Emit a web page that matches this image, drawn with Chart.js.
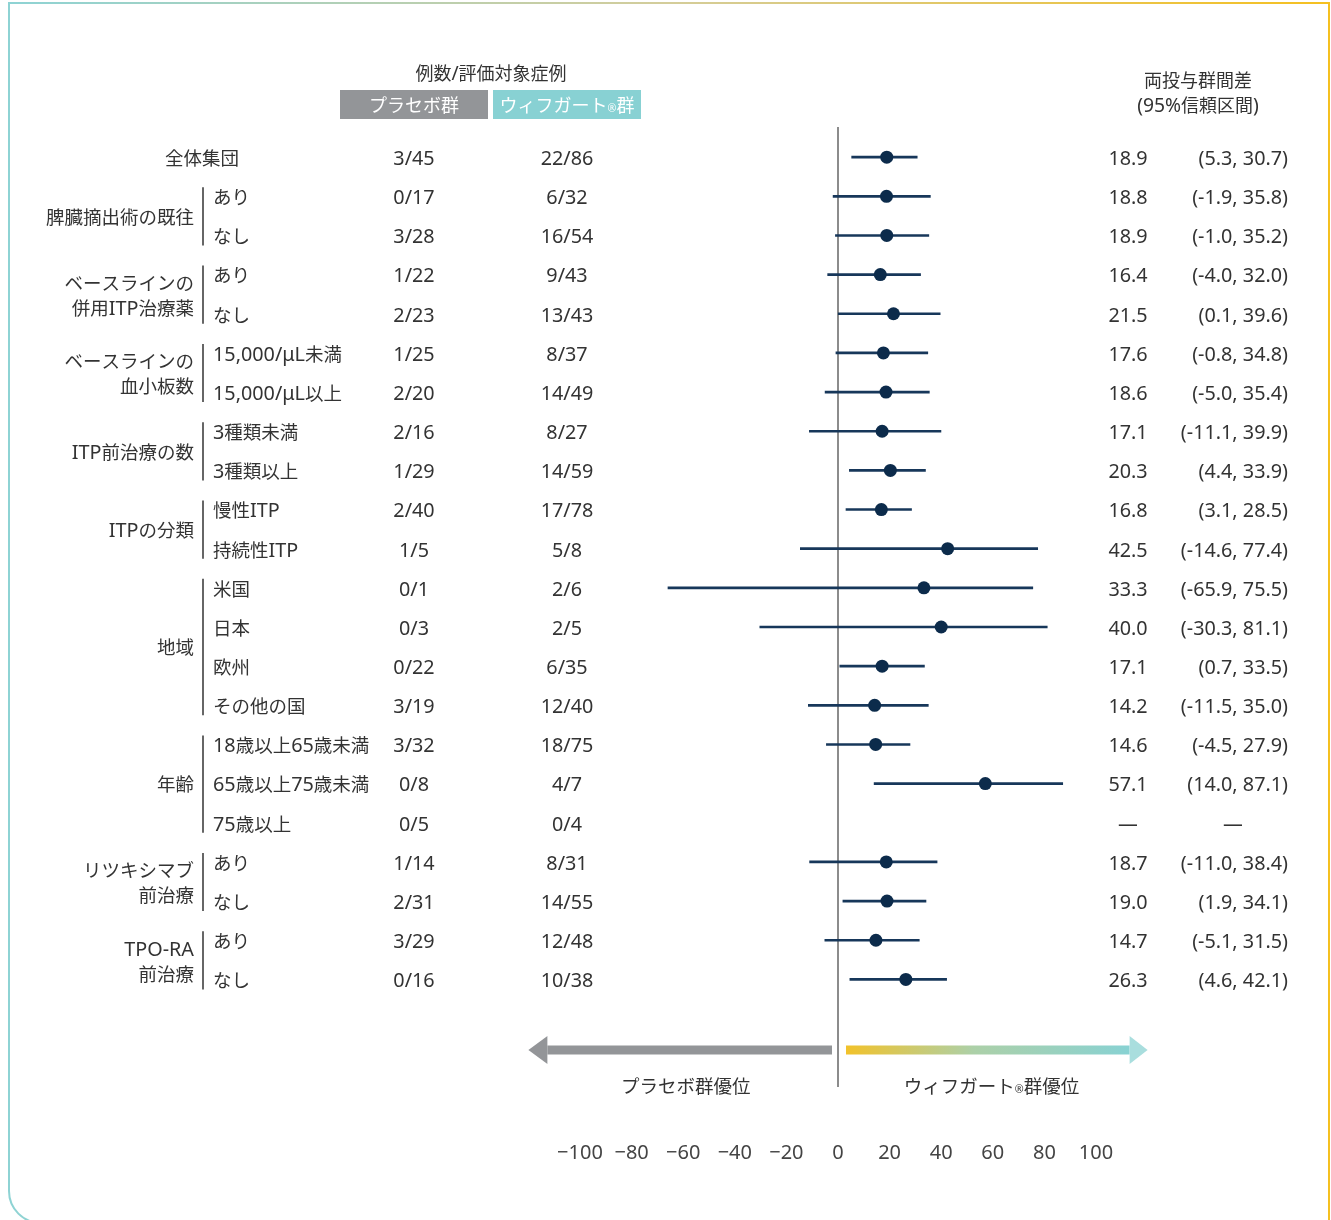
<!DOCTYPE html>
<html lang="ja">
<head>
<meta charset="utf-8">
<title>サブグループ別 両投与群間差</title>
<script src="https://cdn.jsdelivr.net/npm/chart.js@4.4.1/dist/chart.umd.min.js"></script>
<style>
  html, body { margin: 0; padding: 0; background: #fff; }
  #wrap { position: relative; width: 1331px; height: 1220px; }
</style>
</head>
<body>
<div id="wrap"><canvas id="forest"></canvas></div>
<script>
// groups (a "|" splits a label over two lines) and how many rows each one spans
var groupLabels = ['全体集団', '脾臓摘出術の既往', 'ベースラインの|併用ITP治療薬', 'ベースラインの|血小板数',
  'ITP前治療の数', 'ITPの分類', '地域', '年齢', 'リツキシマブ|前治療', 'TPO-RA|前治療'];
var groupSizes = [1, 2, 2, 2, 2, 2, 4, 3, 2, 2];

// one entry per row, top to bottom
var subgroups = ['', 'あり', 'なし', 'あり', 'なし', '15,000/μL未満', '15,000/μL以上', '3種類未満', '3種類以上',
  '慢性ITP', '持続性ITP', '米国', '日本', '欧州', 'その他の国', '18歳以上65歳未満', '65歳以上75歳未満', '75歳以上',
  'あり', 'なし', 'あり', 'なし'];
var placeboN = ['3/45', '0/17', '3/28', '1/22', '2/23', '1/25', '2/20', '2/16', '1/29', '2/40', '1/5',
  '0/1', '0/3', '0/22', '3/19', '3/32', '0/8', '0/5', '1/14', '2/31', '3/29', '0/16'];
var efgarN = ['22/86', '6/32', '16/54', '9/43', '13/43', '8/37', '14/49', '8/27', '14/59', '17/78', '5/8',
  '2/6', '2/5', '6/35', '12/40', '18/75', '4/7', '0/4', '8/31', '14/55', '12/48', '10/38'];
var estimate = [18.9, 18.8, 18.9, 16.4, 21.5, 17.6, 18.6, 17.1, 20.3, 16.8, 42.5,
  33.3, 40.0, 17.1, 14.2, 14.6, 57.1, null, 18.7, 19.0, 14.7, 26.3];
var lower = [5.3, -1.9, -1.0, -4.0, 0.1, -0.8, -5.0, -11.1, 4.4, 3.1, -14.6,
  -65.9, -30.3, 0.7, -11.5, -4.5, 14.0, null, -11.0, 1.9, -5.1, 4.6];
var upper = [30.7, 35.8, 35.2, 32.0, 39.6, 34.8, 35.4, 39.9, 33.9, 28.5, 77.4,
  75.5, 81.1, 33.5, 35.0, 27.9, 87.1, null, 38.4, 34.1, 31.5, 42.1];

var LATIN = '"Noto Sans", sans-serif';
var CJK = '"Noto Sans CJK JP", sans-serif';
var TEXT = '#333333';
var NAVY = '#0c2b4b';

var ciData = [];
var pointData = [];
for (var i = 0; i < subgroups.length; i++) {
  if (estimate[i] === null) continue;
  ciData.push({ y: i, x: [lower[i], upper[i]] });
  pointData.push({ x: estimate[i], y: i });
}

function fmt(v) {
  return v.toFixed(1);
}

// split a string into latin / japanese runs so each gets its own font
function splitRuns(s) {
  var out = [];
  for (var n = 0; n < s.length; n++) {
    var ch = s.charAt(n);
    var j = s.charCodeAt(n) >= 0x3000;
    if (out.length && out[out.length - 1].cjk === j) out[out.length - 1].t += ch;
    else out.push({ t: ch, cjk: j });
  }
  return out;
}

function runFont(r, size) {
  return r.cjk ? size + 'px ' + CJK : (size * 1.07).toFixed(1) + 'px ' + LATIN;
}

function textWidth(ctx, s, size) {
  var w = 0;
  splitRuns(s).forEach(function (r) {
    ctx.font = runFont(r, size);
    w += ctx.measureText(r.t).width;
  });
  return w;
}

function txt(ctx, s, x, y, align, size, color) {
  size = size || 18.5;
  var w = textWidth(ctx, s, size);
  var px = align === 'center' ? x - w / 2 : (align === 'right' ? x - w : x);
  var base = y + size * 0.37;
  ctx.textAlign = 'left';
  ctx.textBaseline = 'alphabetic';
  ctx.fillStyle = color || TEXT;
  splitRuns(s).forEach(function (r) {
    ctx.font = runFont(r, size);
    ctx.fillText(r.t, px, base);
    px += ctx.measureText(r.t).width;
  });
}

// text with a small registered mark, centred on cx
function txtMark(ctx, before, after, cx, y, size, color) {
  var small = Math.round(size * 0.55);
  var w1 = textWidth(ctx, before, size);
  var w3 = textWidth(ctx, after, size);
  var w2 = textWidth(ctx, '®', small);
  var x = cx - (w1 + w2 + w3) / 2;
  txt(ctx, before, x, y, 'left', size, color);
  txt(ctx, '®', x + w1, y + size * 0.2, 'left', small, color);
  txt(ctx, after, x + w1 + w2, y, 'left', size, color);
}

var forestPlugin = {
  id: 'forestTable',
  beforeDraw: function (chart) {
    var ctx = chart.ctx;
    ctx.save();
    ctx.fillStyle = '#fff';
    ctx.fillRect(0, 0, chart.width, chart.height);
    // frame, its bottom edge runs just past the picture
    var g = ctx.createLinearGradient(9, 0, 1329, 0);
    g.addColorStop(0, '#8ed3d4');
    g.addColorStop(0.5, '#d4cd9a');
    g.addColorStop(1, '#f5c020');
    ctx.strokeStyle = g;
    ctx.lineWidth = 2;
    var l = 9, t = 3, r = 1329, b = 1223, rad = 32;
    ctx.beginPath();
    ctx.moveTo(l, t);
    ctx.lineTo(r, t);
    ctx.lineTo(r, b);
    ctx.lineTo(l + rad, b);
    ctx.arcTo(l, b, l, b - rad, rad);
    ctx.closePath();
    ctx.stroke();
    ctx.restore();
  },
  beforeDatasetsDraw: function (chart) {
    var ctx = chart.ctx;
    var x0 = chart.scales.x.getPixelForValue(0);
    ctx.save();
    ctx.strokeStyle = '#8c8c8c';
    ctx.lineWidth = 2;
    ctx.beginPath();
    ctx.moveTo(x0, 127);
    ctx.lineTo(x0, 1087);
    ctx.stroke();
    ctx.restore();
  },
  afterDraw: function (chart) {
    var ctx = chart.ctx;
    var xs = chart.scales.x;
    var ys = chart.scales.y;
    var x0 = xs.getPixelForValue(0);
    ctx.save();

    // column headers
    txt(ctx, '例数/評価対象症例', 491, 73, 'center', 18);
    ctx.fillStyle = '#939598';
    ctx.fillRect(340, 90, 148, 29);
    ctx.fillStyle = '#88d1d3';
    ctx.fillRect(493, 90, 148, 29);
    txt(ctx, 'プラセボ群', 414, 105, 'center', 18, '#fff');
    txtMark(ctx, 'ウィフガート', '群', 567, 105, 18, '#fff');
    txt(ctx, '両投与群間差', 1198, 80, 'center', 18);
    txt(ctx, '(95%信頼区間)', 1198, 105, 'center', 18);

    // rows
    for (var i = 0; i < subgroups.length; i++) {
      var y = ys.getPixelForValue(i) + 1;
      if (subgroups[i]) txt(ctx, subgroups[i], 213, y, 'left');
      txt(ctx, placeboN[i], 414, y, 'center');
      txt(ctx, efgarN[i], 567, y, 'center');
      if (estimate[i] === null) {
        txt(ctx, '—', 1128, y, 'center');
        txt(ctx, '—', 1233, y, 'center');
      } else {
        txt(ctx, fmt(estimate[i]), 1128, y, 'center');
        txt(ctx, '(' + fmt(lower[i]) + ', ' + fmt(upper[i]) + ')', 1288, y, 'right');
      }
    }

    // group labels and brackets
    var row = 0;
    for (var k = 0; k < groupLabels.length; k++) {
      var first = row, last = row + groupSizes[k] - 1;
      var yTop = ys.getPixelForValue(first), yBot = ys.getPixelForValue(last);
      var mid = (yTop + yBot) / 2 + 1;
      var lines = groupLabels[k].split('|');
      if (groupSizes[k] === 1 && !subgroups[first]) {
        txt(ctx, lines[0], 239, mid, 'right');
      } else {
        if (lines.length === 1) {
          txt(ctx, lines[0], 194, mid, 'right');
        } else {
          txt(ctx, lines[0], 194, mid - 12, 'right');
          txt(ctx, lines[1], 194, mid + 13, 'right');
        }
        ctx.strokeStyle = '#333';
        ctx.lineWidth = 1.5;
        ctx.beginPath();
        ctx.moveTo(203, yTop - 9);
        ctx.lineTo(203, yBot + 10);
        ctx.stroke();
      }
      row = last + 1;
    }

    // direction arrows
    var ay = 1050, half = 4.5, head = 14;
    var leftTip = xs.getPixelForValue(-120), rightTip = xs.getPixelForValue(120);
    ctx.fillStyle = '#939598';
    ctx.fillRect(leftTip + 19, ay - half, (x0 - 6) - (leftTip + 19), half * 2);
    ctx.beginPath();
    ctx.moveTo(leftTip, ay);
    ctx.lineTo(leftTip + 19, ay - head);
    ctx.lineTo(leftTip + 19, ay + head);
    ctx.closePath();
    ctx.fill();

    var gr = ctx.createLinearGradient(x0 + 8, 0, rightTip - 18, 0);
    gr.addColorStop(0, '#f2c22a');
    gr.addColorStop(0.45, '#acd0a8');
    gr.addColorStop(1, '#88d2d3');
    ctx.fillStyle = gr;
    ctx.fillRect(x0 + 8, ay - half, (rightTip - 18) - (x0 + 8), half * 2);
    ctx.fillStyle = '#a9dede';
    ctx.beginPath();
    ctx.moveTo(rightTip, ay);
    ctx.lineTo(rightTip - 18, ay - head);
    ctx.lineTo(rightTip - 18, ay + head);
    ctx.closePath();
    ctx.fill();

    txt(ctx, 'プラセボ群優位', xs.getPixelForValue(-59), 1086, 'center', 18.5);
    txtMark(ctx, 'ウィフガート', '群優位', xs.getPixelForValue(59.5), 1086, 18.5, TEXT);

    ctx.restore();
  }
};

new Chart(document.getElementById('forest'), {
  type: 'bar',
  data: {
    datasets: [
      {
        type: 'scatter',
        label: '両投与群間差',
        data: pointData,
        pointRadius: 6.5,
        pointHoverRadius: 6.5,
        pointBackgroundColor: NAVY,
        pointBorderWidth: 0,
        order: 0
      },
      {
        type: 'bar',
        label: '95%信頼区間',
        indexAxis: 'y',
        data: ciData,
        backgroundColor: '#17375a',
        borderWidth: 0,
        barThickness: 2,
        order: 1
      }
    ]
  },
  options: {
    responsive: true,
    maintainAspectRatio: false,
    animation: false,
    devicePixelRatio: 1,
    layout: { padding: { left: 580, right: 235, top: 127, bottom: 34 }, autoPadding: false },
    plugins: { legend: { display: false }, tooltip: { enabled: false } },
    scales: {
      x: {
        type: 'linear',
        offset: false,
        min: -100,
        max: 100,
        grid: { display: false, drawTicks: false, offset: false },
        border: { display: false },
        ticks: {
          stepSize: 20,
          padding: 5,
          maxRotation: 0,
          minRotation: 0,
          autoSkip: false,
          color: '#444',
          font: { family: LATIN, size: 20 },
          callback: function (v) { return v < 0 ? '−' + (-v) : '' + v; }
        },
        afterFit: function (scale) { scale.height = 50; }
      },
      y: {
        type: 'linear',
        offset: false,
        reverse: true,
        min: -0.77,
        max: 25,
        grid: { offset: false },
        display: false
      }
    }
  },
  plugins: [forestPlugin]
});
</script>
</body>
</html>
